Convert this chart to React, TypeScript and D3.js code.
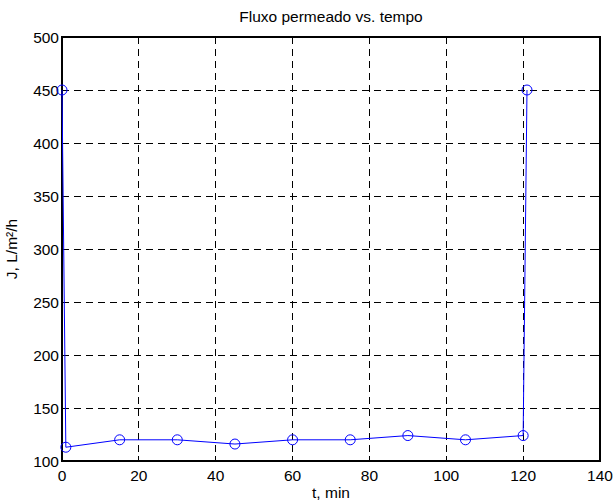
import React from "react";
import * as d3 from "d3";

const tValues = [0, 1, 15, 30, 45, 60, 75, 90, 105, 120, 121];
const jValues = [450, 113, 120, 120, 116, 120, 120, 124, 120, 124, 450];
const xTicks = [0, 20, 40, 60, 80, 100, 120, 140];
const yTicks = [100, 150, 200, 250, 300, 350, 400, 450, 500];
const titleText = "Fluxo permeado vs. tempo";
const xLabel = "t, min";
const yLabel = "J, L/m²/h";

const W = 614;
const H = 503;
const m = { left: 62, right: 600, top: 37, bottom: 461 };
const font = "'Liberation Sans', Arial, Helvetica, sans-serif";
const fs = 15.5;

export default function App() {
  const x = d3.scaleLinear().domain([0, 140]).range([m.left, m.right]);
  const y = d3.scaleLinear().domain([100, 500]).range([m.bottom, m.top]);
  const pts = tValues.map((t, i) => [t, jValues[i]] as [number, number]);
  const line = d3
    .line<[number, number]>()
    .x((d) => x(d[0]))
    .y((d) => y(d[1]));
  const tl = 5;
  return (
    <svg
      width={W}
      height={H}
      style={{ position: "absolute", left: 0, top: 0, background: "#fff" }}
      fontFamily={font}
    >
      <rect x={0} y={0} width={W} height={H} fill="#fff" />
      {xTicks.slice(1, -1).map((t) => (
        <line
          key={"gx" + t}
          x1={x(t)}
          x2={x(t)}
          y1={m.top}
          y2={m.bottom}
          stroke="#000"
          strokeWidth={1}
          strokeDasharray="7,5"
          shapeRendering="crispEdges"
        />
      ))}
      {yTicks.slice(1, -1).map((t) => (
        <line
          key={"gy" + t}
          x1={m.left}
          x2={m.right}
          y1={y(t)}
          y2={y(t)}
          stroke="#000"
          strokeWidth={1}
          strokeDasharray="7,5"
          shapeRendering="crispEdges"
        />
      ))}
      {xTicks.map((t) => (
        <g key={"tx" + t}>
          <line x1={x(t)} x2={x(t)} y1={m.bottom} y2={m.bottom - tl} stroke="#000" shapeRendering="crispEdges" />
          <line x1={x(t)} x2={x(t)} y1={m.top} y2={m.top + tl} stroke="#000" shapeRendering="crispEdges" />
          <text x={x(t)} y={m.bottom + 20} textAnchor="middle" fontSize={fs} fill="#000">
            {t}
          </text>
        </g>
      ))}
      {yTicks.map((t) => (
        <g key={"ty" + t}>
          <line x1={m.left} x2={m.left + tl} y1={y(t)} y2={y(t)} stroke="#000" shapeRendering="crispEdges" />
          <line x1={m.right} x2={m.right - tl} y1={y(t)} y2={y(t)} stroke="#000" shapeRendering="crispEdges" />
          <text x={m.left - 3} y={y(t)} dy="0.36em" textAnchor="end" fontSize={fs} fill="#000">
            {t}
          </text>
        </g>
      ))}
      <rect
        x={m.left}
        y={m.top}
        width={m.right - m.left}
        height={m.bottom - m.top}
        fill="none"
        stroke="#000"
        strokeWidth={1.5}
        shapeRendering="crispEdges"
      />
      <path d={line(pts) || ""} fill="none" stroke="#0000ff" strokeWidth={1} />
      {pts.map((d, i) => (
        <circle key={i} cx={x(d[0])} cy={y(d[1])} r={5} fill="none" stroke="#0000ff" strokeWidth={1} />
      ))}
      <text x={(m.left + m.right) / 2} y={22} textAnchor="middle" fontSize={fs} fill="#000">
        {titleText}
      </text>
      <text x={(m.left + m.right) / 2} y={498} textAnchor="middle" fontSize={fs} fill="#000">
        {xLabel}
      </text>
      <text
        transform={`translate(17, ${(m.top + m.bottom) / 2}) rotate(-90)`}
        textAnchor="middle"
        fontSize={fs}
        fill="#000"
      >
        {yLabel}
      </text>
    </svg>
  );
}
